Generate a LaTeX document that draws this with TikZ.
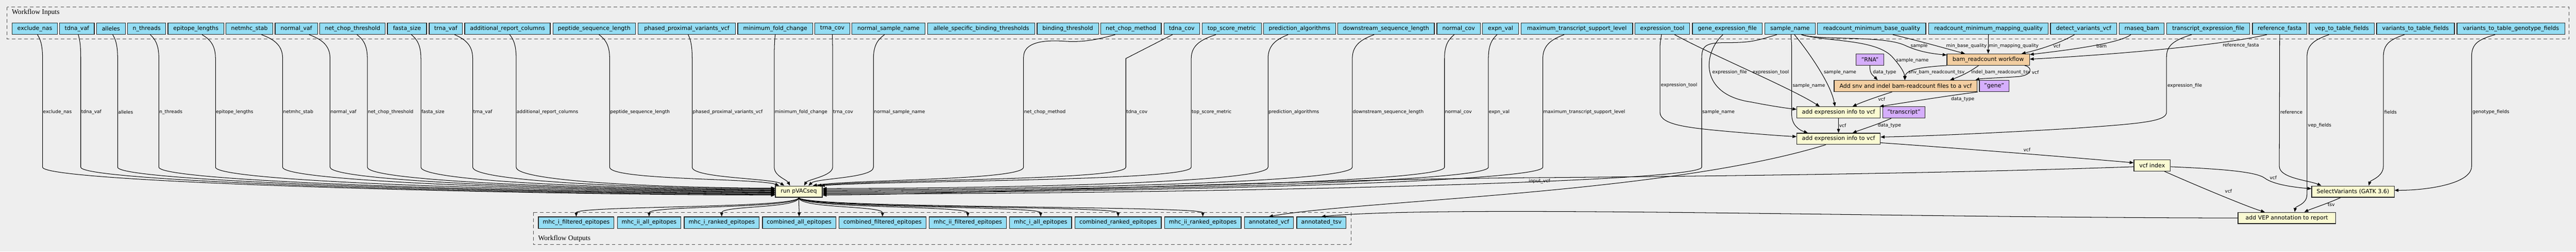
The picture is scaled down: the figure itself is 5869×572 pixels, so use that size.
\documentclass[tikz,border=0pt]{standalone}
\usepackage{fontspec}
\setmainfont{DejaVu Sans}
\newfontfamily\titlefont{Liberation Serif}
\usetikzlibrary{arrows.meta,calc,positioning}
\definecolor{bgc}{HTML}{EEEEEE}
\definecolor{inblue}{HTML}{94DDF4}
\definecolor{stepyel}{HTML}{FAFAD2}
\definecolor{suborg}{HTML}{F3CEA1}
\definecolor{defpur}{HTML}{D5AEFC}
\newcommand\nfont{\fontsize{12.9}{15}\selectfont}
\newcommand\lfont{\fontsize{10.6}{12}\selectfont}
\newcommand\tfont{\titlefont\fontsize{16}{18}\selectfont}
\tikzset{
  inbox/.style={draw=black!85, line width=1.5pt, fill=inblue, font=\nfont, minimum height=26pt, inner xsep=3pt, inner ysep=2pt, anchor=west},
  outbox/.style={inbox, inner xsep=10pt},
  stepbox/.style={draw=black!85, line width=1.5pt, fill=stepyel, font=\nfont, minimum height=25.5pt, inner xsep=3pt, inner ysep=2pt, anchor=west},
  subbox/.style={stepbox, fill=suborg},
  defbox/.style={stepbox, fill=defpur},
  conn/.style={draw=black, line width=1.2pt, -{Triangle[length=9pt,width=7pt]}},
  elabel/.style={font=\lfont, anchor=west, inner sep=1pt},
  cluster/.style={draw=black!70, line width=1.4pt, dash pattern=on 8pt off 6pt},
}
\newcounter{labc}
\newcommand\lab[3]{\stepcounter{labc}\node[elabel] (lab\arabic{labc}) at (#1,#2) {#3};}
\newcommand\inp[4]{\node[inbox,minimum width=#4pt] (#1) at (#3,65) {#2};}
% #1 node, #2 xshift, #3 vertical x, #4 label, #5 target, #6 controls
\newcommand\inedge[6]{%
  \path (#1.south); \pgfgetlastxy{\myx}{\myy}%
  \pgfmathsetmacro\mysx{\myx+(#2)}%
  \pgfmathsetmacro\cA{\mysx+0.5*(#3-\mysx)}%
  \draw[conn] ([xshift=#2pt]#1.south) .. controls (\cA,88) and (#3,100) .. (#3,133) -- (#3,380) .. controls #6 .. (#5);
  \lab{#3}{255}{#4}}
\begin{document}
\begin{tikzpicture}[x=1pt,y=-1pt]
\useasboundingbox (0,0) rectangle (5869,572);
\fill[bgc] (0,0) rectangle (5869,572);

% ---------- inputs cluster ----------
\draw[cluster] (16,16) rectangle (5853,89);
\node[font=\tfont, anchor=west, inner sep=0pt] (wintitle) at (27,28) {Workflow Inputs};

\inp{exna}{exclude\_nas}{27}{103}
\inp{tdvaf}{tdna\_vaf}{135}{79}
\inp{alle}{alleles}{219}{66}
\inp{nthr}{n\_threads}{290}{87}
\inp{epil}{epitope\_lengths}{382}{127}
\inp{nmhc}{netmhc\_stab}{514}{107}
\inp{nvaf}{normal\_vaf}{626}{97}
\inp{nct}{net\_chop\_threshold}{728}{149}
\inp{fsz}{fasta\_size}{882}{89}
\inp{trvaf}{trna\_vaf}{977}{76}
\inp{arc}{additional\_report\_columns}{1058}{195}
\inp{psl}{peptide\_sequence\_length}{1259}{188}
\inp{ppv}{phased\_proximal\_variants\_vcf}{1453}{222}
\inp{mfc}{minimum\_fold\_change}{1680}{171}
\inp{trcov}{trna\_cov}{1856}{79}
\inp{nsn}{normal\_sample\_name}{1940}{167}
\inp{asbt}{allele\_specific\_binding\_thresholds}{2113}{244}
\inp{bt}{binding\_threshold}{2362}{140}
\inp{ncm}{net\_chop\_method}{2507}{138}
\inp{tdcov}{tdna\_cov}{2651}{81}
\inp{tsm}{top\_score\_metric}{2738}{135}
\inp{pred}{prediction\_algorithms}{2878}{164}
\inp{dsl}{downstream\_sequence\_length}{3047}{220}
\inp{ncov}{normal\_cov}{3273}{99}
\inp{expn}{expn\_val}{3377}{82}
\inp{mtsl}{maximum\_transcript\_support\_level}{3465}{254}
\inp{et}{expression\_tool}{3724}{125}
\inp{gef}{gene\_expression\_file}{3855}{159}
\inp{sn}{sample\_name}{4020}{115}
\inp{rbq}{readcount\_minimum\_base\_quality}{4140}{247}
\inp{rmq}{readcount\_minimum\_mapping\_quality}{4393}{273}
\inp{dvv}{detect\_variants\_vcf}{4671}{151}
\inp{rb}{rnaseq\_bam}{4828}{102}
\inp{tef}{transcript\_expression\_file}{4936}{189}
\inp{rf}{reference\_fasta}{5131}{124}
\inp{vepf}{vep\_to\_table\_fields}{5260}{149}
\inp{vtabf}{variants\_to\_table\_fields}{5414}{177}
\inp{vtgf}{variants\_to\_table\_genotype\_fields}{5597}{246}

% ---------- steps ----------
\node[subbox, minimum width=188pt] (bam) at (4435,135.5) {bam\_readcount workflow};
\node[defbox, minimum width=63pt] (rna) at (4228,135.5) {"RNA"};
\node[subbox, minimum width=326pt] (snv) at (4178,195.5) {Add snv and indel bam-readcount files to a vcf};
\node[defbox, minimum width=67pt] (gene) at (4509,195.5) {"gene"};
\node[stepbox, minimum width=190pt] (ae1) at (4093,255.5) {add expression info to vcf};
\node[defbox, minimum width=96pt] (tr) at (4289,255.5) {"transcript"};
\node[stepbox, minimum width=190pt] (ae2) at (4093,315.5) {add expression info to vcf};
\node[stepbox, minimum width=83pt] (vi) at (4861,376) {vcf index};
\node[stepbox, minimum width=188pt] (sv) at (5266,435.5) {SelectVariants (GATK 3.6)};
\node[stepbox, minimum width=107pt, anchor=center] (pv) at (1820,435.5) {run pVACseq};
\node[stepbox, minimum width=222pt, anchor=center] (avep) at (5210,495.5) {add VEP annotation to report};

% ---------- outputs ----------
\node[outbox] (o1) at (1226,506) {mhc\_i\_filtered\_epitopes};
\node[outbox, right=6pt of o1] (o2) {mhc\_ii\_all\_epitopes};
\node[outbox, right=6pt of o2] (o3) {mhc\_i\_ranked\_epitopes};
\node[outbox, right=6pt of o3] (o4) {combined\_all\_epitopes};
\node[outbox, right=6pt of o4] (o5) {combined\_filtered\_epitopes};
\node[outbox, right=6pt of o5] (o6) {mhc\_ii\_filtered\_epitopes};
\node[outbox, right=6pt of o6] (o7) {mhc\_i\_all\_epitopes};
\node[outbox, right=6pt of o7] (o8) {combined\_ranked\_epitopes};
\node[outbox, right=6pt of o8] (o9) {mhc\_ii\_ranked\_epitopes};
\node[outbox, right=6pt of o9] (o10) {annotated\_vcf};
\node[outbox, right=6pt of o10] (o11) {annotated\_tsv};
\coordinate (obr) at ($(o11.east)+(11,0)$);
\draw[cluster] (1215,483) rectangle (obr |- 0,556);
\node[font=\tfont, anchor=west, inner sep=0pt] (wouttitle) at (1226,543) {Workflow Outputs};

% ---------- inputs to run pVACseq ----------
\inedge{exna}{6}{97}{exclude\_nas}{[yshift=-8pt]pv.west}{(97,415) and (1180,443)}
\inedge{tdvaf}{3}{184}{tdna\_vaf}{[yshift=-6.4pt]pv.west}{(184,415) and (1210,442)}
\inedge{alle}{4}{268}{alleles}{[yshift=-4.8pt]pv.west}{(268,415) and (1240,440)}
\inedge{nthr}{8}{362}{n\_threads}{[yshift=-3.2pt]pv.west}{(362,415) and (1273,439)}
\inedge{epil}{14}{491}{epitope\_lengths}{[yshift=-1.6pt]pv.west}{(491,415) and (1318,437)}
\inedge{nmhc}{27.5}{644}{netmhc\_stab}{pv.west}{(644,415) and (1372,435.5)}
\inedge{nvaf}{29}{752}{normal\_vaf}{[yshift=1.6pt]pv.west}{(752,415) and (1410,434)}
\inedge{nct}{10}{837}{net\_chop\_threshold}{[yshift=3.2pt]pv.west}{(837,415) and (1440,432)}
\inedge{fsz}{10}{959}{fasta\_size}{[yshift=4.8pt]pv.west}{(959,415) and (1482,431)}
\inedge{trvaf}{20}{1077}{trna\_vaf}{[yshift=6.4pt]pv.west}{(1077,415) and (1524,429)}
\inedge{arc}{5}{1176}{additional\_report\_columns}{[yshift=8pt]pv.west}{(1176,415) and (1558,427.5)}
\inedge{psl}{11}{1389}{peptide\_sequence\_length}{[xshift=-45pt]pv.north}{(1389,410) and (1730,405)}
\inedge{ppv}{3}{1577}{phased\_proximal\_variants\_vcf}{[xshift=-33pt]pv.north}{(1577,405) and (1760,405)}
\inedge{mfc}{0}{1764}{minimum\_fold\_change}{[xshift=-20pt]pv.north}{(1764,400) and (1792,408)}
\inedge{trcov}{0}{1897}{trna\_cov}{[xshift=12pt]pv.north}{(1897,400) and (1840,408)}
\inedge{nsn}{-9}{1990}{normal\_sample\_name}{[xshift=22pt]pv.north}{(1990,405) and (1860,405)}
\inedge{tsm}{-36}{2714}{top\_score\_metric}{[xshift=50pt]pv.north}{(2714,412) and (2040,410)}
\inedge{pred}{-26}{2889}{prediction\_algorithms}{[yshift=7pt]pv.east}{(2889,415) and (2290,428)}
\inedge{dsl}{-27}{3081}{downstream\_sequence\_length}{[yshift=4.5pt]pv.east}{(3081,415) and (2370,431)}
\inedge{ncov}{-10}{3291}{normal\_cov}{[yshift=2pt]pv.east}{(3291,415) and (2440,433)}
\inedge{expn}{-8}{3391}{expn\_val}{[yshift=-0.5pt]pv.east}{(3391,415) and (2490,436)}
\inedge{mtsl}{-29}{3515}{maximum\_transcript\_support\_level}{[yshift=-3pt]pv.east}{(3515,415) and (2540,438)}

\draw[conn] ([xshift=-36pt]ncm.south) .. controls (2500,90) and (2470,96) .. (2430,94) .. controls (2380,90) and (2332,95) .. (2332,130) -- (2332,380) .. controls (2332,410) and (1940,408) .. ([xshift=32pt]pv.north);
\lab{2332}{255}{net\_chop\_method}
\draw[conn] ([xshift=-21pt]tdcov.south) -- (2565,133) -- (2565,380) .. controls (2565,410) and (1990,408) .. ([xshift=42pt]pv.north);
\lab{2565}{255}{tdna\_cov}
\draw[conn] ([xshift=-30pt]sn.south) .. controls (4000,93) and (3990,97) .. (3930,97) .. controls (3885,97) and (3877,105) .. (3877,133) -- (3877,380) .. controls (3877,415) and (2690,441) .. ([yshift=-5.5pt]pv.east);
\lab{3877}{255}{sample\_name}

% ---------- bam_readcount workflow ----------
\draw[conn] ([xshift=26pt]sn.south) .. controls (4140,92) and (4290,80) .. (4340,103) .. controls (4370,117) and (4400,122) .. ([yshift=-3pt]bam.north west);
\lab{4352}{105}{sample}
\draw[conn] ([xshift=26pt]sn.south) .. controls (4160,95) and (4270,88) .. (4310,128) .. controls (4330,150) and (4339,165) .. ([xshift=-2pt]snv.north);
\lab{4319}{137}{sample\_name}
\draw[conn] ([xshift=48pt]rbq.south) .. controls (4380,95) and (4440,112) .. ([xshift=-53pt]bam.north);
\lab{4433}{105}{min\_base\_quality}
\draw[conn] (rmq.south) -- (bam.north);
\lab{4530}{105}{min\_mapping\_quality}
\draw[conn] ([xshift=-21pt]dvv.south) .. controls (4700,95) and (4650,112) .. ([xshift=76pt]bam.north);
\lab{4677}{105}{vcf}
\draw[conn] ([xshift=-25pt]rb.south) .. controls (4830,98) and (4720,113) .. ([yshift=-2pt]bam.north east);
\lab{4775}{105}{bam}
\draw[conn] ([xshift=-29pt]rf.south) .. controls (5050,105) and (4800,125) .. ([yshift=1pt]bam.east);
\lab{5063}{104}{reference\_fasta}

% ---------- Add snv and indel ----------
\draw[conn] (bam.south west) .. controls (4380,152) and (4342,158) .. ([xshift=-2pt]snv.north);
\lab{4347}{165}{snv\_bam\_readcount\_tsv}
\draw[conn] ([xshift=-22pt]bam.south) .. controls (4490,162) and (4470,172) .. ([xshift=101pt]snv.north);
\lab{4490}{165}{indel\_bam\_readcount\_tsv}
\draw[conn] ([xshift=83pt]bam.south) .. controls (4630,152) and (4632,170) .. (4600,174) .. controls (4560,177) and (4515,178) .. ([xshift=-5pt]snv.north east);
\lab{4628}{165}{vcf}
\draw[conn] (rna.south) .. controls (4259,168) and (4268,172) .. ([xshift=-64pt]snv.north);
\lab{4266}{165}{data\_type}

% ---------- add expression info (gene) ----------
\draw[conn] ([xshift=-31pt]snv.south) .. controls (4270,222) and (4240,233) .. ([xshift=32pt]ae1.north);
\lab{4278}{225}{vcf}
\draw[conn] ([xshift=-3pt]gene.south west) .. controls (4420,220) and (4330,235) .. ([xshift=-2pt]ae1.north east);
\lab{4444}{225}{data\_type}
\draw[conn] ([xshift=28pt]et.south) .. controls (3900,125) and (4080,200) .. ([xshift=-43pt]ae1.north);
\lab{3992}{165}{expression\_tool}
\draw[conn] ([xshift=10pt]sn.south) .. controls (4130,130) and (4172,195) .. ([xshift=-8pt]ae1.north);
\lab{4154}{165}{sample\_name}
\draw[conn] ([xshift=-10pt]gef.south) .. controls (3880,120) and (3870,215) .. (3990,232) .. controls (4030,240) and (4070,246) .. ([yshift=7pt]ae1.west);
\lab{3900}{165}{expression\_file}

% ---------- add expression info (transcript) ----------
\draw[conn] ([xshift=-2pt]et.south) .. controls (3784,90) and (3782,95) .. (3782,110) -- (3782,255) .. controls (3782,285) and (3850,291) .. (3950,300) .. controls (4010,305) and (4060,309) .. ([yshift=5pt]ae2.west);
\lab{3783}{194}{expression\_tool}
\draw[conn] ([xshift=2.5pt]sn.south) .. controls (4081,90) and (4082,100) .. (4082,110) -- (4082,260) .. controls (4082,285) and (4100,296) .. ([xshift=-70pt]ae2.north);
\lab{4083}{195}{sample\_name}
\draw[conn] ([xshift=-38pt]tef.south) .. controls (4950,92) and (4936,105) .. (4936,130) -- (4936,255) .. controls (4936,276) and (4880,281) .. (4720,292) .. controls (4550,302) and (4400,309) .. ([yshift=4pt]ae2.east);
\lab{4937}{195}{expression\_file}
\draw[conn] ([xshift=-29pt]tr.south) .. controls (4280,282) and (4245,293) .. ([xshift=32pt]ae2.north);
\lab{4277}{285}{data\_type}
\draw[conn] (ae1.south) -- (ae2.north);
\lab{4189}{285}{vcf}

% ---------- vcf index and downstream ----------
\draw[conn] ([yshift=-9pt]ae2.east) .. controls (4450,336) and (4700,356) .. ([yshift=6pt]vi.west);
\lab{4609}{341}{vcf}
\draw[conn] ([yshift=-3pt]vi.west) .. controls (4500,392) and (4000,400) .. (3480,404) .. controls (2900,409) and (2300,440) .. ([yshift=-8pt]pv.east);
\lab{3482}{412}{input\_vcf}
\draw[conn] ([yshift=-3pt]vi.east) .. controls (5060,384) and (5140,390) .. (5160,405) .. controls (5180,420) and (5230,426) .. ([yshift=6.5pt]sv.west);
\lab{5170}{404}{vcf}
\draw[conn] ([xshift=28pt]vi.south) .. controls (5000,420) and (5120,470) .. ([xshift=-50pt]avep.north);
\lab{5068}{435}{vcf}
\draw[conn] ([xshift=-28pt]sv.south) .. controls (5310,460) and (5265,475) .. ([xshift=40pt]avep.north);
\lab{5302}{465}{tsv}
\draw[conn] (rf.south) -- (5193,378) .. controls (5193,405) and (5260,410) .. ([xshift=-72pt]sv.north);
\lab{5194}{255}{reference}
\draw[conn] ([xshift=-25pt]vtabf.south) .. controls (5445,90) and (5430,100) .. (5430,130) -- (5430,378) .. controls (5430,402) and (5400,410) .. ([xshift=36pt]sv.north);
\lab{5431}{255}{fields}
\draw[conn] ([xshift=-36pt]vtgf.south) .. controls (5645,90) and (5631,100) .. (5631,130) -- (5631,378) .. controls (5631,420) and (5520,433) .. ([yshift=3pt]sv.east);
\lab{5632}{255}{genotype\_fields}
\draw[conn] ([xshift=-29pt]vepf.south) .. controls (5275,90) and (5256,100) .. (5256,130) -- (5256,442) .. controls (5256,465) and (5230,468) .. ([xshift=18pt]avep.north);
\lab{5257}{285}{vep\_fields}

% ---------- outputs edges ----------
\foreach \o in {o1,o2,o3,o4,o5,o6,o7,o8,o9}
  \draw[conn] (pv.south) .. controls +(0,25) and +(0,-25) .. (\o.north);
\draw[conn] ([xshift=-29pt]ae2.south) .. controls (3800,440) and (3100,455) .. (o10.north);
\draw[conn] (avep.west) .. controls (4300,495) and (3300,465) .. (o11.north);
\end{tikzpicture}
\end{document}
